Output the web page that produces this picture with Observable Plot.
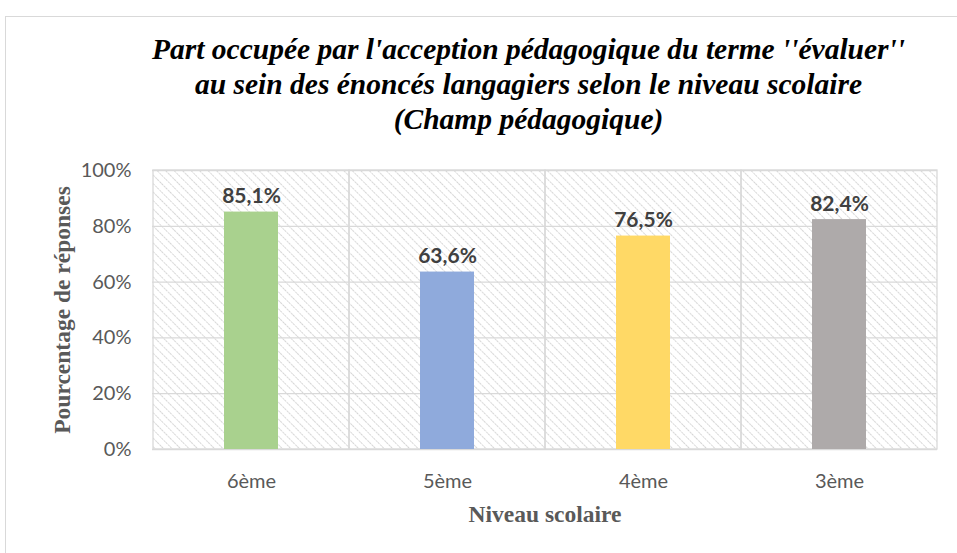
<!DOCTYPE html>
<html>
<head>
<meta charset="utf-8">
<script src="https://cdn.jsdelivr.net/npm/d3@7"></script>
<script src="https://cdn.jsdelivr.net/npm/@observablehq/plot@0.6"></script>
<style>
  body { margin: 0; background: #fff; }
  #wrap { position: relative; width: 957px; height: 553px; overflow: hidden; background: #fff; }
  #border { position: absolute; left: 5px; top: 16px; width: 1000px; height: 600px; border-left: 1px solid #d9d9d9; border-top: 1px solid #d9d9d9; }
  #title { position: relative; height: 150px; box-sizing: border-box; padding-top: 32px; padding-left: 100px;
    font-family: "Liberation Serif", "Times New Roman", serif; font-weight: bold; font-style: italic;
    font-size: 29.5px; line-height: 35px; text-align: center; color: #000; white-space: nowrap; }
  #chart { position: relative; }
</style>
</head>
<body>
<div id="wrap">
  <div id="border"></div>
  <div id="title">Part occupée par l'acception pédagogique du terme ''évaluer''<br>au sein des énoncés langagiers selon le niveau scolaire<br>(Champ pédagogique)</div>
  <div id="chart"></div>
</div>
<script>
const categories = ["6ème", "5ème", "4ème", "3ème"];
const values = [85.1, 63.6, 76.5, 82.4];
const labels = ["85,1%", "63,6%", "76,5%", "82,4%"];
const colors = ["#a9d18e", "#8faadc", "#ffd966", "#aeaaaa"];
const yTicks = [0, 20, 40, 60, 80, 100];

const data = categories.map((c, i) => ({cat: c, value: values[i], label: labels[i], color: colors[i]}));

const tickFont = "Lato, 'Open Sans', sans-serif";
const serif = "'Liberation Serif', serif";

const plot = Plot.plot({
  width: 957,
  height: 403,
  marginTop: 20,
  marginBottom: 104,
  marginLeft: 152,
  marginRight: 20,
  style: {fontFamily: tickFont, background: "transparent", overflow: "visible"},
  x: {domain: categories, padding: 0, label: null},
  y: {domain: [0, 100], label: null},
  color: {type: "identity"},
  marks: [
    Plot.barY(data, {x: "cat", y1: 0, y2: 100, fill: "url(#hatch)", stroke: "#d9d9d9", strokeWidth: 1.3}),
    Plot.ruleY(yTicks, {stroke: "#d9d9d9", strokeWidth: 1.3}),
    Plot.barY(data, {x: "cat", y: "value", fill: "color", insetLeft: 71, insetRight: 71}),
    Plot.text(data, {x: "cat", y: "value", text: "label", dy: -9, lineAnchor: "bottom",
      fontSize: 21, fontWeight: "bold", fill: "#404040"}),
    Plot.axisY({ticks: yTicks, tickFormat: d => d + "%", tickSize: 0, tickPadding: 21,
      fontSize: 20, color: "#595959", label: null}),
    Plot.axisX({tickSize: 0, tickPadding: 24, fontSize: 20, color: "#595959", label: null}),
    Plot.text(["Pourcentage de réponses"], {frameAnchor: "left", textAnchor: "middle", dx: -90, rotate: -90,
      fontFamily: serif, fontWeight: "bold", fontSize: 23.5, fill: "#595959"}),
    Plot.text(["Niveau scolaire"], {frameAnchor: "bottom", dy: 72,
      fontFamily: serif, fontWeight: "bold", fontSize: 23.5, fill: "#595959"})
  ]
});

// hatch pattern definition
const ns = "http://www.w3.org/2000/svg";
const defs = document.createElementNS(ns, "defs");
defs.innerHTML = `<pattern id="hatch" width="6" height="6" patternUnits="userSpaceOnUse" patternTransform="rotate(-45)">
  <line x1="0" y1="0" x2="0" y2="6" stroke="#cccccc" stroke-width="1.6" stroke-dasharray="2.2,1"/>
</pattern>`;
plot.insertBefore(defs, plot.firstChild);
document.getElementById("chart").appendChild(plot);
</script>
</body>
</html>
